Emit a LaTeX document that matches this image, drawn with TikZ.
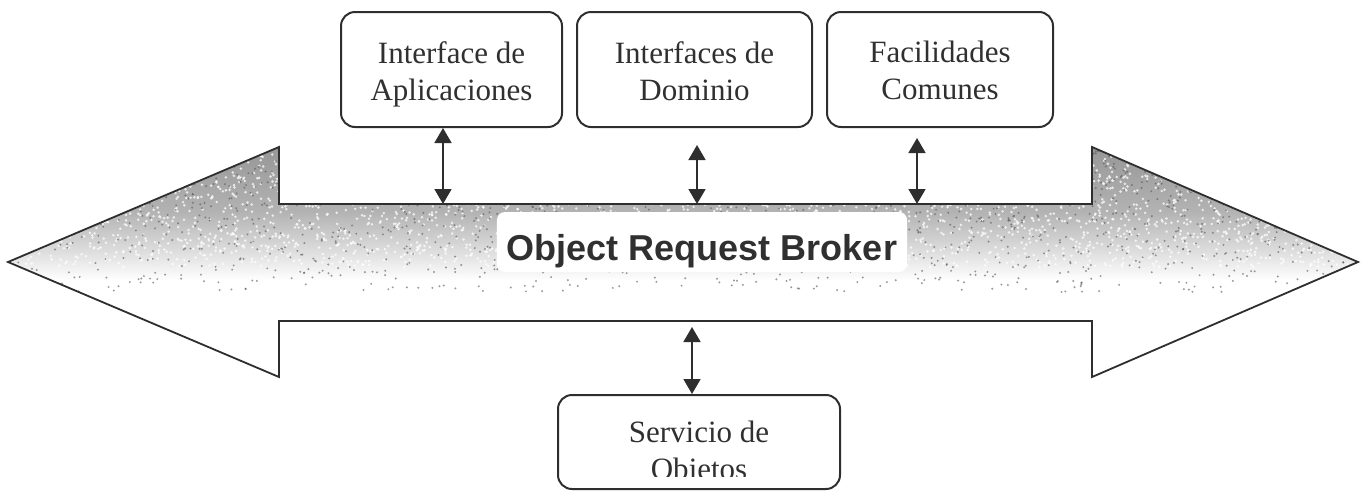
\documentclass[tikz,border=0pt]{standalone}
\usepackage{fontspec}
\setmainfont{Liberation Serif}
\newfontfamily\orbfont{Liberation Sans}
\usetikzlibrary{arrows.meta}

\definecolor{ink}{HTML}{2E2E2E}
\definecolor{txt}{HTML}{303030}

% vertical fade of the broker band: dark at the top, white from the middle down
\pgfdeclareverticalshading{orbfade}{100bp}{%
  color(0bp)=(white); color(46bp)=(white); color(52bp)=(gray!25);
  color(61bp)=(gray!60); color(75bp)=(gray!82); color(100bp)=(gray!82)}

\tikzset{
  module/.style={draw=ink, line width=2pt, rounded corners=14pt,
    minimum height=115pt, inner sep=0pt},
  label/.style={text=txt, align=center, inner sep=0pt, anchor=north,
    font=\fontsize{31}{37}\selectfont},
  link/.style={draw=ink, line width=1.6pt,
    {Triangle[width=17pt,length=15pt]}-{Triangle[width=17pt,length=15pt]}},
}

\begin{document}
\begin{tikzpicture}[x=1pt, y=-1pt]
\useasboundingbox (0,0) rectangle (1364,491);

% outline of the double-headed band
\coordinate (L)  at (8,262);
\coordinate (LT) at (279,147);
\coordinate (LS) at (279,204);
\coordinate (RS) at (1092,204);
\coordinate (RT) at (1092,147);
\coordinate (R)  at (1358,262);
\coordinate (RB) at (1092,377);
\coordinate (RU) at (1092,321);
\coordinate (LU) at (279,321);
\coordinate (LB) at (279,377);

\shade[shading=orbfade] (L) -- (LT) -- (LS) -- (RS) -- (RT) -- (R) -- (RB)
  -- (RU) -- (LU) -- (LB) -- cycle;

% stippled texture of the band
\begin{scope}
  \clip (L) -- (LT) -- (LS) -- (RS) -- (RT) -- (R) -- (RB)
    -- (RU) -- (LU) -- (LB) -- cycle;
  \pgfmathsetseed{4711}
  \foreach \i in {1,...,3200}{
    \pgfmathsetmacro\gx{8+1350*rnd}
    \pgfmathsetmacro\gy{147+120*rnd}
    \fill[white, opacity=0.75] (\gx,\gy) circle (1.4);
  }
  \foreach \i in {1,...,2200}{
    \pgfmathsetmacro\gx{8+1350*rnd}
    \pgfmathsetmacro\gy{147+145*rnd^1.6}
    \fill[black!65, opacity=0.6] (\gx,\gy) circle (1.1);
  }
\end{scope}

% band title on its cleared patch
\node[fill=white, rounded corners=8pt, inner xsep=10pt, inner ysep=4pt,
  text height=44pt, text depth=8pt, anchor=base, text=txt,
  font=\orbfont\bfseries\fontsize{36}{40}\selectfont]
  (orb) at (702,260) {Object Request Broker};

\draw[ink, line width=1.8pt, line join=miter]
  (L) -- (LT) -- (LS) -- (RS) -- (RT) -- (R) -- (RB)
  -- (RU) -- (LU) -- (LB) -- cycle;

% service modules above the band
\node[module, minimum width=221pt] (app) at (451.5,69.5) {};
\node[label] at ([yshift=-30pt]app.north) {Interface de\\Aplicaciones};

\node[module, minimum width=235pt] (dom) at (694.5,69.5) {};
\node[label] at ([yshift=-30pt]dom.north) {Interfaces de\\Dominio};

\node[module, minimum width=226pt] (fac) at (940,69.5) {};
\node[label] at ([yshift=-30pt]fac.north) {Facilidades\\Comunes};

% object services below the band
\node[module, minimum width=282pt, minimum height=94pt] (srv) at (699,442) {};
\begin{scope}
  \clip (556,397) rectangle (842,476);
  \node[label] at ([yshift=-27pt]srv.north) {Servicio de\\Objetos};
\end{scope}

% links between the modules and the band
\coordinate (b1) at (443,204);
\coordinate (b2) at (697,204);
\coordinate (t2) at (697,145);
\coordinate (b3) at (917,204);
\coordinate (t3) at (917,138);
\coordinate (b4) at (692,327);

\draw[link] (b1 |- app.south) -- (b1);
\draw[link] (t2) -- (b2);
\draw[link] (t3) -- (b3);
\draw[link] (b4) -- (b4 |- srv.north);

\end{tikzpicture}
\end{document}
